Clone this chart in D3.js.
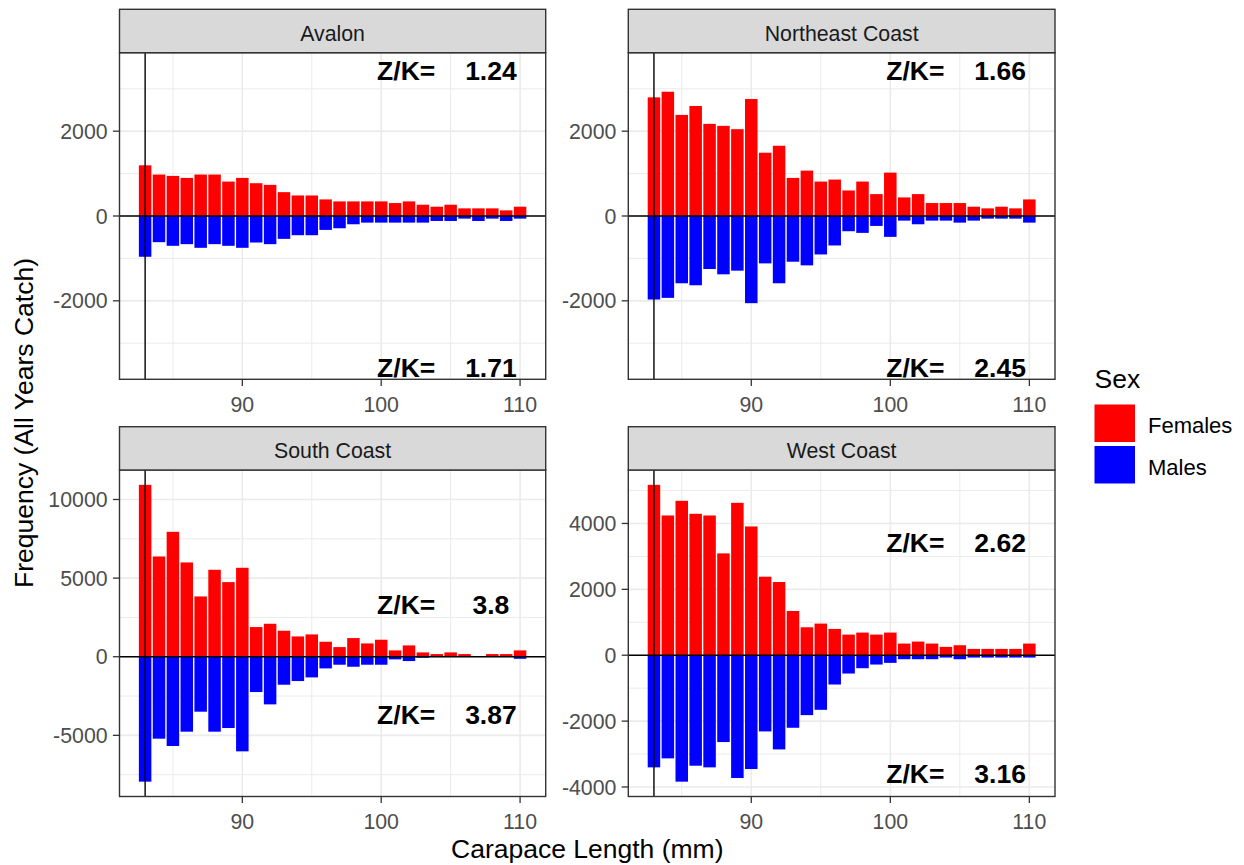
<!DOCTYPE html>
<html><head><meta charset="utf-8">
<script src="https://cdn.jsdelivr.net/npm/d3@7"></script>
<style>
body{margin:0;background:#fff}
svg{display:block}
text{font-family:"Liberation Sans", Arial, Helvetica, sans-serif}
</style>
</head><body>
<svg id="chart" width="1244" height="865"></svg>
<script>
// ---------- data ----------
const regions = ["Avalon", "Northeast Coast", "South Coast", "West Coast"];
const lengths = [83,84,85,86,87,88,89,90,91,92,93,94,95,96,97,98,99,100,101,102,103,104,105,106,107,108,109,110];

const avalonFemales = [1195,977,945,898,977,977,812,898,773,734,562,484,484,391,344,344,344,344,305,344,266,219,266,180,180,180,133,219];
const avalonMales   = [-961,-617,-703,-664,-750,-664,-703,-750,-625,-664,-539,-453,-453,-328,-289,-195,-156,-156,-156,-156,-156,-117,-117,-62,-117,-62,-117,-62];

const northeastFemales = [2797,2930,2383,2594,2172,2125,2047,2758,1492,1656,898,1070,812,859,602,812,516,1023,438,516,305,305,305,219,180,219,180,391];
const northeastMales   = [-1969,-1930,-1586,-1633,-1250,-1375,-1289,-2055,-1117,-1586,-1078,-1164,-906,-695,-359,-398,-234,-492,-109,-195,-109,-109,-156,-109,-62,-62,-62,-156];

const southFemales = [10932,6377,7945,5996,3835,5530,4746,5657,1886,2097,1653,1292,1419,953,614,1186,847,1081,403,720,275,169,275,169,0,169,169,403];
const southMales   = [-7945,-5212,-5678,-4767,-3496,-4767,-4534,-6017,-2246,-3030,-1780,-1547,-1314,-742,-508,-636,-508,-508,-169,-275,-64,-20,-10,-10,0,-10,-10,-130];

const westFemales = [5172,4242,4687,4293,4242,3091,4626,3909,2384,2222,1343,848,960,798,626,687,626,687,354,414,354,253,303,192,192,192,192,354];
const westMales   = [-3404,-3131,-3838,-3354,-3404,-2636,-3727,-3455,-2313,-2859,-2202,-1818,-1657,-889,-556,-394,-283,-232,-121,-121,-121,-71,-121,-71,-71,-71,-71,-71];

const femalesByRegion = [avalonFemales, northeastFemales, southFemales, westFemales];
const malesByRegion   = [avalonMales, northeastMales, southMales, westMales];

const topZK    = ["1.24", "1.66", "3.8", "2.62"];
const bottomZK = ["1.71", "2.45", "3.87", "3.16"];
const zkLabelY = [3500, -3500];
const zkWordX = 101.8;
const zkValueX = 107.9;
const lcLine = 83;

const xTicks = [90, 100, 110];
const xMinor = [85, 95, 105];
const yTicksByRegion = [[-2000,0,2000],[-2000,0,2000],[-5000,0,5000,10000],[-4000,-2000,0,2000,4000]];
const yMinorByRegion = [[-3000,-1000,1000,3000],[-3000,-1000,1000,3000],[-7500,-2500,2500,7500],[-3000,-1000,1000,3000,5000]];

const sexLabels = ["Females", "Males"];
const sexColors = ["#FF0000", "#0000FF"];

// ---------- layout ----------
const svg = d3.select("#chart");
const colX = [[119.5, 545.7], [628.3, 1055]];
const rowY = [{strip: 9.3, top: 52.7, bottom: 379.3}, {strip: 426.7, top: 470, bottom: 796.5}];
const tickLen = 6.6, tickGap = 5.3;
const fontTick = 21.3, fontStrip = 21.3, fontTitle = 26.5, fontZK = 26.5;

const xExt = d3.extent(lengths);
const xLo = xExt[0] - 0.45, xHi = xExt[1] + 0.45, xPad = (xHi - xLo) * 0.05;

const defs = svg.append("defs");

regions.forEach((name, i) => {
  const c = colX[i % 2], r = rowY[Math.floor(i / 2)];
  const fem = femalesByRegion[i], mal = malesByRegion[i];
  const x = d3.scaleLinear().domain([xLo - xPad, xHi + xPad]).range([c[0], c[1]]);
  const yAll = fem.concat(mal, zkLabelY);
  const yExt = d3.extent(yAll), yPad = (yExt[1] - yExt[0]) * 0.05;
  const y = d3.scaleLinear().domain([yExt[0] - yPad, yExt[1] + yPad]).range([r.bottom, r.top]);

  const clipId = "clip" + i;
  defs.append("clipPath").attr("id", clipId).append("rect")
    .attr("x", c[0]).attr("y", r.top).attr("width", c[1] - c[0]).attr("height", r.bottom - r.top);

  const g = svg.append("g");
  const inner = g.append("g").attr("clip-path", `url(#${clipId})`);
  inner.append("rect").attr("x", c[0]).attr("y", r.top).attr("width", c[1]-c[0]).attr("height", r.bottom-r.top).attr("fill", "#fff");

  // minor grid
  inner.selectAll(".xmin").data(xMinor).join("line")
    .attr("x1", d => x(d)).attr("x2", d => x(d)).attr("y1", r.top).attr("y2", r.bottom)
    .attr("stroke", "#EBEBEB").attr("stroke-width", 1);
  inner.selectAll(".ymin").data(yMinorByRegion[i]).join("line")
    .attr("y1", d => y(d)).attr("y2", d => y(d)).attr("x1", c[0]).attr("x2", c[1])
    .attr("stroke", "#EBEBEB").attr("stroke-width", 1);
  // major grid
  inner.selectAll(".xmaj").data(xTicks).join("line")
    .attr("x1", d => x(d)).attr("x2", d => x(d)).attr("y1", r.top).attr("y2", r.bottom)
    .attr("stroke", "#EBEBEB").attr("stroke-width", 1.6);
  inner.selectAll(".ymaj").data(yTicksByRegion[i]).join("line")
    .attr("y1", d => y(d)).attr("y2", d => y(d)).attr("x1", c[0]).attr("x2", c[1])
    .attr("stroke", "#EBEBEB").attr("stroke-width", 1.6);

  // bars
  const bars = [];
  lengths.forEach((L, k) => {
    bars.push({L, v: fem[k], s: 0});
    bars.push({L, v: mal[k], s: 1});
  });
  inner.selectAll(".bar").data(bars).join("rect")
    .attr("x", d => x(d.L - 0.45))
    .attr("width", d => x(d.L + 0.45) - x(d.L - 0.45))
    .attr("y", d => Math.min(y(d.v), y(0)))
    .attr("height", d => Math.abs(y(d.v) - y(0)))
    .attr("fill", d => sexColors[d.s]);

  // reference lines
  inner.append("line").attr("x1", x(lcLine)).attr("x2", x(lcLine)).attr("y1", r.top).attr("y2", r.bottom)
    .attr("stroke", "#000").attr("stroke-width", 1.4);
  inner.append("line").attr("x1", c[0]).attr("x2", c[1]).attr("y1", y(0)).attr("y2", y(0))
    .attr("stroke", "#000").attr("stroke-width", 1.4);

  // Z/K labels
  const zk = [topZK[i], bottomZK[i]];
  zkLabelY.forEach((yy, j) => {
    inner.append("text").attr("x", x(zkWordX)).attr("y", y(yy)).attr("dy", "0.46em")
      .attr("text-anchor", "middle").attr("font-size", fontZK).attr("font-weight", "bold")
      .attr("fill", "#000").text("Z/K=");
    inner.append("text").attr("x", x(zkValueX)).attr("y", y(yy)).attr("dy", "0.46em")
      .attr("text-anchor", "middle").attr("font-size", fontZK).attr("font-weight", "bold")
      .attr("fill", "#000").text(zk[j]);
  });

  // panel border
  g.append("rect").attr("x", c[0]).attr("y", r.top).attr("width", c[1]-c[0]).attr("height", r.bottom-r.top)
    .attr("fill", "none").attr("stroke", "#333333").attr("stroke-width", 1.4);

  // strip
  g.append("rect").attr("x", c[0]).attr("y", r.strip).attr("width", c[1]-c[0]).attr("height", r.top - r.strip)
    .attr("fill", "#D9D9D9").attr("stroke", "#333333").attr("stroke-width", 1.4);
  g.append("text").attr("x", (c[0]+c[1])/2).attr("y", (r.strip + r.top)/2 + 2.5).attr("dy", "0.35em")
    .attr("text-anchor", "middle").attr("font-size", fontStrip).attr("fill", "#1A1A1A").text(name);

  // x axis
  const xa = g.append("g");
  xa.selectAll("line").data(xTicks).join("line")
    .attr("x1", d => x(d)).attr("x2", d => x(d)).attr("y1", r.bottom).attr("y2", r.bottom + tickLen)
    .attr("stroke", "#333333").attr("stroke-width", 1.3);
  xa.selectAll("text").data(xTicks).join("text")
    .attr("x", d => x(d)).attr("y", r.bottom + 32.3)
    .attr("text-anchor", "middle").attr("font-size", fontTick).attr("fill", "#4D4D4D").text(d => d);

  // y axis
  const ya = g.append("g");
  ya.selectAll("line").data(yTicksByRegion[i]).join("line")
    .attr("x1", c[0] - tickLen).attr("x2", c[0]).attr("y1", d => y(d)).attr("y2", d => y(d))
    .attr("stroke", "#333333").attr("stroke-width", 1.3);
  ya.selectAll("text").data(yTicksByRegion[i]).join("text")
    .attr("x", c[0] - tickLen - tickGap).attr("y", d => y(d)).attr("dy", "0.36em")
    .attr("text-anchor", "end").attr("font-size", fontTick).attr("fill", "#4D4D4D").text(d => d);
});

// axis titles
svg.append("text").attr("x", (colX[0][0] + colX[1][1]) / 2).attr("y", 858)
  .attr("text-anchor", "middle").attr("font-size", fontTitle).attr("fill", "#000")
  .text("Carapace Length (mm)");
svg.append("text").attr("transform", "translate(32.5,423) rotate(-90)")
  .attr("text-anchor", "middle").attr("font-size", fontTitle).attr("fill", "#000")
  .text("Frequency (All Years Catch)");

// legend
const lg = svg.append("g");
lg.append("text").attr("x", 1094.5).attr("y", 388).attr("font-size", fontTitle).attr("fill", "#000").text("Sex");
sexLabels.forEach((lab, j) => {
  const ky = 404.5 + j * 41.5;
  lg.append("rect").attr("x", 1094.5).attr("y", ky).attr("width", 40.5).attr("height", 37.5).attr("fill", sexColors[j]);
  lg.append("text").attr("x", 1148).attr("y", ky + 18.75).attr("dy", "0.45em")
    .attr("font-size", 22).attr("fill", "#000").text(lab);
});
</script>
</body></html>
